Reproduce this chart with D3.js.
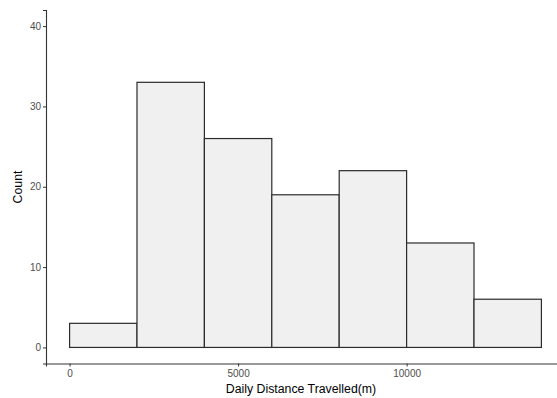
<!DOCTYPE html>
<html>
<head>
<meta charset="utf-8">
<script src="https://cdn.jsdelivr.net/npm/d3@7"></script>
<style>
  html, body { margin: 0; padding: 0; background: #fff; }
  svg { display: block; font-family: Arial, "Liberation Sans", sans-serif; }
</style>
</head>
<body>
<svg id="chart" width="557" height="398"></svg>
<script>
// Histogram bins of daily distance (metres) and their counts
const binStarts = [0, 2000, 4000, 6000, 8000, 10000, 12000];
const binWidth = 2000;
const counts = [3, 33, 26, 19, 22, 13, 6];
const xTicks = [0, 5000, 10000];
const yTicks = [0, 10, 20, 30, 40];

const svg = d3.select("#chart");
const panel = { left: 46, right: 565, top: 10, bottom: 363.5 };

const x = d3.scaleLinear().domain([-700, 14700]).range([panel.left, panel.right]);
const y = d3.scaleLinear().domain([-2, 42]).range([panel.bottom, panel.top]);

const bins = binStarts.map((s, i) => ({ x0: s, x1: s + binWidth, n: counts[i] }));

svg.append("g")
  .selectAll("rect")
  .data(bins)
  .join("rect")
  .attr("x", d => x(d.x0))
  .attr("y", d => y(d.n))
  .attr("width", d => x(d.x1) - x(d.x0))
  .attr("height", d => y(0) - y(d.n))
  .attr("fill", "#f0f0f0")
  .attr("stroke", "#2b2b2b")
  .attr("stroke-width", 1.2);

// x axis
const xAxis = svg.append("g")
  .attr("transform", `translate(0,${panel.bottom})`)
  .call(d3.axisBottom(x).tickValues(xTicks).tickFormat(d3.format("d")).tickSizeOuter(0).tickSize(3));
xAxis.select(".domain").attr("stroke", "#333").attr("stroke-width", 1.1);
xAxis.selectAll(".tick line").attr("stroke", "#333");
xAxis.selectAll(".tick text").attr("fill", "#4d4d4d").attr("font-size", 10).attr("dy", "0.75em");

// y axis
const yAxis = svg.append("g")
  .attr("transform", `translate(${panel.left},0)`)
  .call(d3.axisLeft(y).tickValues(yTicks).tickSizeOuter(0).tickSize(3));
yAxis.select(".domain").attr("stroke", "#333").attr("stroke-width", 1.1);
yAxis.selectAll(".tick line").attr("stroke", "#333");
yAxis.selectAll(".tick text").attr("fill", "#4d4d4d").attr("font-size", 10).attr("x", -5);

// axis titles
svg.append("text")
  .attr("x", 301).attr("y", 393)
  .attr("text-anchor", "middle")
  .attr("font-size", 12.3).attr("fill", "#000")
  .text("Daily Distance Travelled(m)");

svg.append("text")
  .attr("transform", "translate(22,187) rotate(-90)")
  .attr("text-anchor", "middle")
  .attr("font-size", 12.3).attr("fill", "#000")
  .text("Count");
</script>
</body>
</html>
